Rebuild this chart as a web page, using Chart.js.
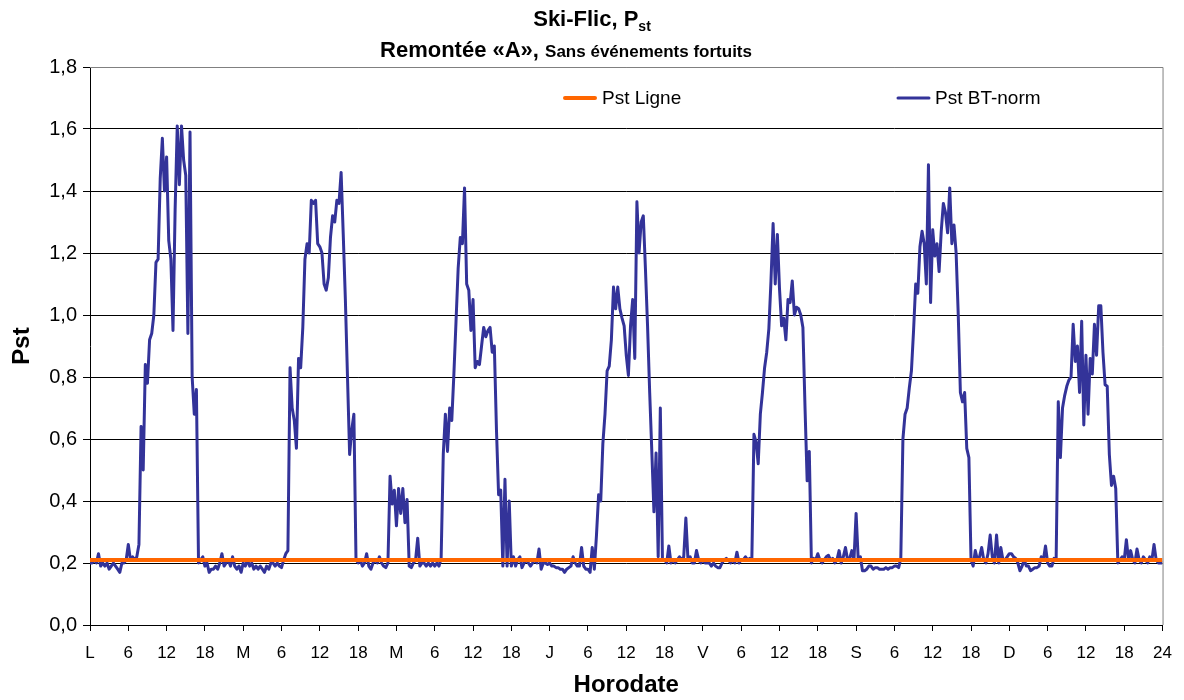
<!DOCTYPE html>
<html>
<head>
<meta charset="utf-8">
<script src="https://cdn.jsdelivr.net/npm/chart.js@4.4.1/dist/chart.umd.min.js"></script>
<style>
  html, body { margin: 0; padding: 0; background: #fff; }
  canvas { display: block; }
</style>
</head>
<body>
<canvas id="chart" width="1184" height="700"></canvas>
<script>
const FONT = '"Liberation Sans", Arial, sans-serif';

// x axis: hours from Monday 0h to Sunday 24h, one label every 6 hours
const xLabels = ['L', '6', '12', '18', 'M', '6', '12', '18', 'M', '6', '12', '18', 'J', '6', '12', '18',
                 'V', '6', '12', '18', 'S', '6', '12', '18', 'D', '6', '12', '18', '24'];
const stepHours = 1 / 3; // one value every 20 minutes

// Pst Ligne (flat)
const ligneHours = [0, 168];
const pstLigne = [0.21, 0.21];

// Pst BT-norm, read per day
const pstLundi = [
  0.20, 0.20, 0.21, 0.20, 0.23, 0.19, 0.20, 0.19, 0.20, 0.18, 0.19, 0.20,
  0.19, 0.18, 0.17, 0.20, 0.20, 0.21, 0.26, 0.21, 0.22, 0.21, 0.22, 0.26,
  0.64, 0.50, 0.84, 0.78, 0.92, 0.94, 1.00, 1.17, 1.18, 1.44, 1.57, 1.40,
  1.51, 1.24, 1.18, 0.95, 1.34, 1.61, 1.42, 1.61, 1.50, 1.45, 0.94, 1.59,
  0.80, 0.68, 0.76, 0.20, 0.21, 0.22, 0.19, 0.20, 0.17, 0.18, 0.18, 0.19,
  0.18, 0.20, 0.23, 0.19, 0.20, 0.21, 0.19, 0.22, 0.19, 0.18, 0.19, 0.17
];
const pstMardi = [
  0.20, 0.19, 0.21, 0.19, 0.20, 0.18, 0.19, 0.18, 0.19, 0.18, 0.17, 0.19,
  0.18, 0.20, 0.20, 0.19, 0.20, 0.19, 0.185, 0.21, 0.23, 0.24, 0.83, 0.70,
  0.66, 0.57, 0.86, 0.83, 0.96, 1.18, 1.23, 1.20, 1.37, 1.36, 1.37, 1.23,
  1.22, 1.20, 1.10, 1.08, 1.12, 1.25, 1.32, 1.30, 1.37, 1.36, 1.46, 1.26,
  1.05, 0.80, 0.55, 0.63, 0.68, 0.21, 0.20, 0.21, 0.19, 0.20, 0.23, 0.19,
  0.18, 0.20, 0.21, 0.20, 0.22, 0.20, 0.19, 0.185, 0.20, 0.48, 0.39, 0.435
];
const pstMercredi = [
  0.32, 0.44, 0.36, 0.44, 0.33, 0.405, 0.19, 0.185, 0.20, 0.21, 0.28, 0.19,
  0.20, 0.20, 0.19, 0.20, 0.19, 0.20, 0.19, 0.20, 0.19, 0.215, 0.55, 0.68,
  0.56, 0.70, 0.66, 0.81, 0.98, 1.15, 1.25, 1.23, 1.41, 1.10, 1.08, 0.95,
  1.05, 0.83, 0.85, 0.84, 0.90, 0.96, 0.93, 0.95, 0.96, 0.88, 0.90, 0.63,
  0.42, 0.435, 0.19, 0.47, 0.19, 0.40, 0.19, 0.22, 0.19, 0.21, 0.22, 0.185,
  0.20, 0.21, 0.20, 0.19, 0.20, 0.21, 0.20, 0.245, 0.18, 0.20, 0.20, 0.195
];
const pstJeudi = [
  0.20, 0.19, 0.19, 0.185, 0.185, 0.18, 0.18, 0.17, 0.18, 0.185, 0.19, 0.22,
  0.20, 0.19, 0.19, 0.25, 0.19, 0.18, 0.18, 0.17, 0.25, 0.18, 0.29, 0.42,
  0.40, 0.585, 0.68, 0.82, 0.835, 0.92, 1.09, 1.02, 1.09, 1.02, 0.99, 0.965,
  0.87, 0.805, 0.965, 1.05, 0.86, 1.365, 1.20, 1.30, 1.32, 1.15, 0.965, 0.75,
  0.56, 0.365, 0.555, 0.22, 0.70, 0.21, 0.21, 0.20, 0.255, 0.20, 0.21, 0.20,
  0.21, 0.22, 0.21, 0.22, 0.345, 0.21, 0.22, 0.20, 0.20, 0.24, 0.21, 0.20
];
const pstVendredi = [
  0.21, 0.20, 0.20, 0.20, 0.19, 0.20, 0.19, 0.185, 0.185, 0.20, 0.21, 0.215,
  0.21, 0.20, 0.21, 0.20, 0.235, 0.20, 0.21, 0.21, 0.22, 0.21, 0.215, 0.21,
  0.615, 0.59, 0.52, 0.68, 0.75, 0.83, 0.88, 0.955, 1.11, 1.295, 1.10, 1.26,
  1.085, 0.965, 0.99, 0.92, 1.05, 1.04, 1.11, 1.00, 1.025, 1.02, 1.00, 0.96,
  0.70, 0.465, 0.56, 0.20, 0.215, 0.21, 0.23, 0.21, 0.20, 0.21, 0.22, 0.225,
  0.21, 0.215, 0.20, 0.21, 0.24, 0.20, 0.22, 0.25, 0.21, 0.215, 0.24, 0.21
];
const pstSamedi = [
  0.36, 0.21, 0.22, 0.175, 0.175, 0.18, 0.19, 0.19, 0.18, 0.185, 0.185, 0.18,
  0.18, 0.18, 0.185, 0.18, 0.185, 0.185, 0.19, 0.19, 0.185, 0.215, 0.60, 0.68,
  0.70, 0.765, 0.82, 0.95, 1.10, 1.07, 1.22, 1.27, 1.23, 1.10, 1.485, 1.04,
  1.275, 1.19, 1.23, 1.14, 1.27, 1.36, 1.33, 1.265, 1.41, 1.23, 1.29, 1.20,
  1.00, 0.75, 0.72, 0.75, 0.57, 0.54, 0.21, 0.19, 0.24, 0.21, 0.22, 0.25,
  0.21, 0.20, 0.23, 0.29, 0.22, 0.20, 0.29, 0.20, 0.25, 0.21, 0.21, 0.22
];
const pstDimanche = [
  0.23, 0.23, 0.22, 0.215, 0.20, 0.175, 0.19, 0.21, 0.19, 0.19, 0.175, 0.18,
  0.185, 0.185, 0.19, 0.22, 0.21, 0.255, 0.20, 0.19, 0.19, 0.215, 0.21, 0.72,
  0.54, 0.70, 0.74, 0.77, 0.79, 0.80, 0.97, 0.85, 0.90, 0.75, 0.98, 0.645,
  0.87, 0.68, 0.86, 0.81, 0.97, 0.87, 1.03, 1.03, 0.88, 0.775, 0.77, 0.55,
  0.45, 0.48, 0.44, 0.20, 0.21, 0.22, 0.21, 0.275, 0.21, 0.24, 0.21, 0.20,
  0.245, 0.21, 0.20, 0.22, 0.21, 0.20, 0.22, 0.21, 0.26, 0.21, 0.20, 0.20, 0.20
];

const week = [pstLundi, pstMardi, pstMercredi, pstJeudi, pstVendredi, pstSamedi, pstDimanche];
const btPoints = [];
week.forEach((values, day) => {
    values.forEach((v, i) => btPoints.push({ x: day * 24 + i * stepHours, y: v }));
});
const lignePoints = ligneHours.map((h, i) => ({ x: h, y: pstLigne[i] }));

function drawRuns(ctx, runs, cx, baseline) {
    let total = 0;
    runs.forEach(r => { ctx.font = r.font; total += ctx.measureText(r.text).width; });
    let x = cx - total / 2;
    runs.forEach(r => {
        ctx.font = r.font;
        ctx.fillText(r.text, x, baseline + (r.dy || 0));
        x += ctx.measureText(r.text).width;
    });
}

const decor = {
    id: 'decor',
    afterDraw(chart) {
        const ctx = chart.ctx;
        const a = chart.chartArea;
        ctx.save();
        // plot border, top and right
        ctx.strokeStyle = '#808080';
        ctx.lineWidth = 1;
        ctx.beginPath();
        ctx.moveTo(a.left, a.top + 0.5);
        ctx.lineTo(a.right + 0.5, a.top + 0.5);
        ctx.lineTo(a.right + 0.5, a.bottom);
        ctx.stroke();

        // legend inside the plot
        ctx.fillStyle = '#000';
        ctx.textBaseline = 'middle';
        ctx.textAlign = 'left';
        ctx.font = '19px ' + FONT;
        const legendY = 98;
        ctx.lineCap = 'round';
        ctx.strokeStyle = '#FF6600';
        ctx.lineWidth = 4;
        ctx.beginPath(); ctx.moveTo(565, legendY); ctx.lineTo(595, legendY); ctx.stroke();
        ctx.fillText('Pst Ligne', 602, legendY + 1);
        ctx.strokeStyle = '#333399';
        ctx.lineWidth = 3;
        ctx.beginPath(); ctx.moveTo(898, legendY); ctx.lineTo(929, legendY); ctx.stroke();
        ctx.fillText('Pst BT-norm', 935, legendY + 1);

        // title
        ctx.textBaseline = 'alphabetic';
        drawRuns(ctx, [
            { text: 'Ski-Flic, P', font: 'bold 22px ' + FONT },
            { text: 'st', font: 'bold 14px ' + FONT, dy: 5 }
        ], 592, 26);
        drawRuns(ctx, [
            { text: 'Remontée «A», ', font: 'bold 22px ' + FONT },
            { text: 'Sans événements fortuits', font: 'bold 17px ' + FONT }
        ], 566, 57);
        ctx.restore();
    }
};

new Chart(document.getElementById('chart').getContext('2d'), {
    type: 'line',
    data: {
        datasets: [{
            label: 'Pst Ligne',
            data: lignePoints,
            borderColor: '#FF6600',
            borderWidth: 4,
            pointRadius: 0,
            fill: false
        }, {
            label: 'Pst BT-norm',
            data: btPoints,
            borderColor: '#333399',
            borderWidth: 3,
            borderJoinStyle: 'round',
            pointRadius: 0,
            tension: 0,
            fill: false
        }]
    },
    options: {
        responsive: false,
        animation: false,
        devicePixelRatio: 1,
        layout: { padding: { top: 67, right: 21, left: 0, bottom: 0 } },
        plugins: {
            legend: { display: false },
            tooltip: { enabled: false },
            title: { display: false }
        },
        scales: {
            x: {
                type: 'linear',
                min: 0,
                max: 168,
                afterFit: scale => { scale.height = 75; },
                afterBuildTicks: scale => { scale.ticks = xLabels.map((_, i) => ({ value: i * 6 })); },
                ticks: {
                    autoSkip: false,
                    maxRotation: 0,
                    padding: 12,
                    color: '#000',
                    font: { family: FONT, size: 17 },
                    callback: (v, i) => xLabels[i]
                },
                grid: { drawOnChartArea: false, drawTicks: true, tickLength: 6, tickColor: '#000' },
                border: { color: '#000', width: 1 },
                title: {
                    display: true,
                    text: 'Horodate',
                    color: '#000',
                    font: { family: FONT, size: 24, weight: 'bold' },
                    padding: { top: 0, bottom: 0 }
                }
            },
            y: {
                min: 0,
                max: 1.8,
                afterFit: scale => { scale.width = 90; },
                ticks: {
                    stepSize: 0.2,
                    padding: 6,
                    color: '#000',
                    font: { family: FONT, size: 20 },
                    callback: v => v.toFixed(1).replace('.', ',')
                },
                grid: {
                    color: c => (c.tick && Math.abs(c.tick.value - 1.8) < 1e-6) ? '#808080' : '#000',
                    tickColor: '#000',
                    tickLength: 7
                },
                border: { color: '#000', width: 1 },
                title: {
                    display: true,
                    text: 'Pst',
                    color: '#000',
                    font: { family: FONT, size: 24, weight: 'bold' },
                    padding: { top: 8, bottom: 0 }
                }
            }
        }
    },
    plugins: [decor]
});
</script>
</body>
</html>
